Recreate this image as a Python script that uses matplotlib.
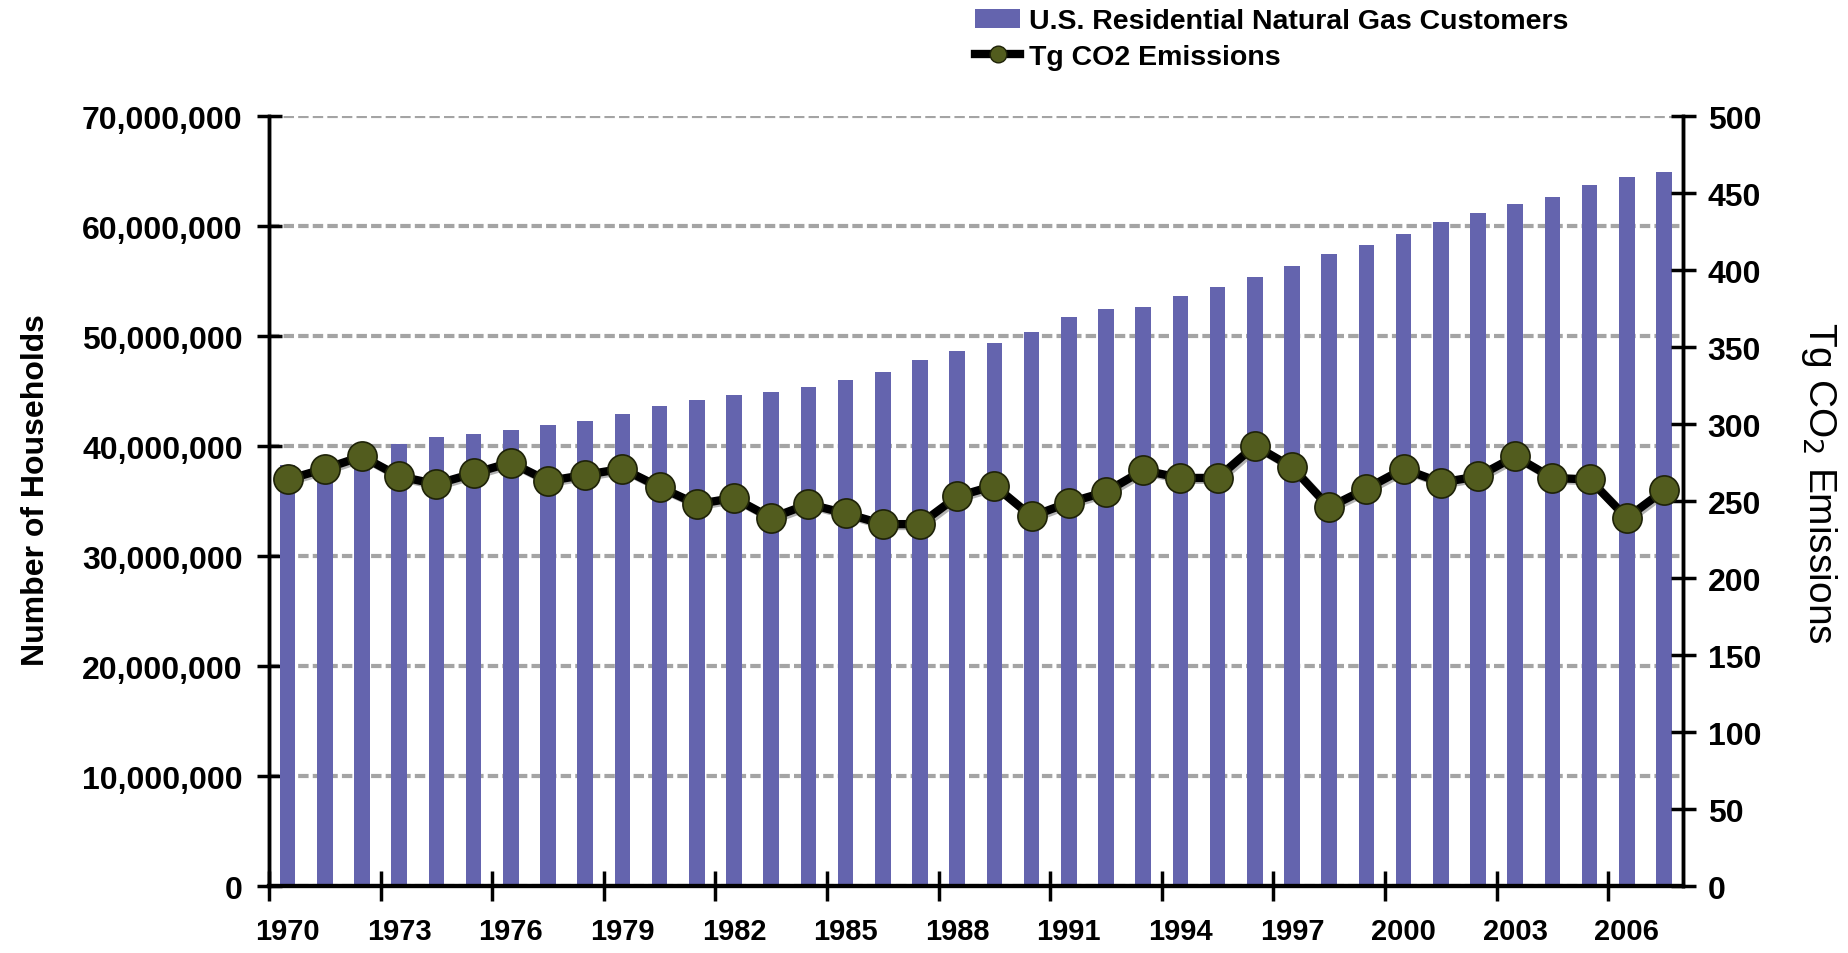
import matplotlib
matplotlib.use("Agg")
import matplotlib.pyplot as plt
import numpy as np
from matplotlib.ticker import FuncFormatter, MultipleLocator
from matplotlib.lines import Line2D
from matplotlib.patches import Patch

plt.rcParams['font.family'] = ['Liberation Sans', 'DejaVu Sans']

# data
years = list(range(1970, 2008))
customers = [38.3e6, 38.9e6, 39.6e6, 40.2e6, 40.8e6, 41.1e6, 41.5e6, 41.9e6, 42.3e6, 42.9e6,
             43.6e6, 44.2e6, 44.6e6, 44.9e6, 45.4e6, 46.0e6, 46.7e6, 47.8e6, 48.6e6, 49.4e6,
             50.4e6, 51.7e6, 52.5e6, 52.6e6, 53.6e6, 54.5e6, 55.4e6, 56.4e6, 57.5e6, 58.3e6,
             59.3e6, 60.4e6, 61.2e6, 62.0e6, 62.6e6, 63.7e6, 64.5e6, 64.9e6]
co2 = [264, 271, 279, 266, 261, 268, 275, 263, 267, 271,
       259, 248, 252, 239, 248, 242, 235, 235, 253, 260,
       240, 249, 256, 270, 265, 265, 286, 272, 246, 258,
       271, 262, 266, 279, 265, 264, 239, 257]

bar_color = '#6464ae'
marker_color = '#525c1e'
grid_color = '#a4a4a4'

fig = plt.figure(figsize=(18.49, 9.54), dpi=100)
ax = fig.add_axes([0.1455, 0.0702, 0.7645, 0.8071])
ax2 = ax.twinx()

x = np.arange(len(years))
ax.bar(x, customers, width=0.42, color=bar_color, zorder=2)
# faint shadow under the line, as in the reference
ax2.plot(x + 0.06, np.array(co2) - 1.2, color='#808080', lw=6, alpha=0.6, zorder=2)
ax2.plot(x, co2, color='black', lw=6, marker='o', markersize=21,
         markerfacecolor=marker_color, markeredgecolor='#1e2208', markeredgewidth=1.2,
         zorder=3)

ax.set_xlim(-0.5, len(years) - 0.5)
ax.set_ylim(0, 70e6)
ax2.set_ylim(0, 500)

# gridlines
ax.yaxis.set_major_locator(MultipleLocator(10e6))
ax.grid(axis='y', color=grid_color, lw=3, ls=(0, (2.5, 1)), zorder=1)
ax.set_axisbelow(True)

ax.yaxis.set_major_formatter(FuncFormatter(lambda v, p: f'{int(v):,}'))
ax2.yaxis.set_major_locator(MultipleLocator(50))

# x ticks: marks at category boundaries, labels on categories
ax.set_xticks(np.arange(-0.5, len(years) - 1, 3))
ax.set_xticklabels([])
ax.set_xticks(np.arange(0, len(years), 3), minor=True)
ax.set_xticklabels([str(years[i]) for i in range(0, len(years), 3)], minor=True)
ax.tick_params(axis='x', which='major', direction='inout', length=22, width=2.5)
ax.tick_params(axis='x', which='minor', length=0, pad=22, labelsize=21)
for lab in ax.get_xticklabels(minor=True):
    lab.set_fontweight('bold')

ax.tick_params(axis='y', direction='inout', length=18, width=2.5, labelsize=23, pad=10)
ax2.tick_params(axis='y', direction='inout', length=18, width=2.5, labelsize=23, pad=9)
for lab in ax.get_yticklabels() + ax2.get_yticklabels():
    lab.set_fontweight('bold')

for a in (ax, ax2):
    a.spines['top'].set_visible(False)
    a.spines['left'].set_linewidth(2.5)
    a.spines['right'].set_linewidth(2.5)
    a.spines['bottom'].set_linewidth(3)

ax.set_ylabel('Number of Households', fontsize=23, fontweight='bold')
ax.yaxis.set_label_coords(-0.154, 0.515)
ax2.set_ylabel('Tg CO$_2$ Emissions', fontsize=28, rotation=270)
ax2.yaxis.set_label_coords(1.111, 0.525)

handles = [Patch(facecolor=bar_color, edgecolor='none'),
           Line2D([0], [0], color='black', lw=6, marker='o', markersize=12,
                  markerfacecolor=marker_color, markeredgecolor='#1e2208')]
leg = fig.legend(handles, ['U.S. Residential Natural Gas Customers', 'Tg CO2 Emissions'],
                 loc='upper left', bbox_to_anchor=(0.518, 1.008), frameon=False,
                 prop={'weight': 'bold', 'size': 20.5}, handlelength=1.6,
                 handletextpad=0.3, labelspacing=0.35, borderaxespad=0.2)

fig.savefig('out.png', dpi=100, facecolor='white')
